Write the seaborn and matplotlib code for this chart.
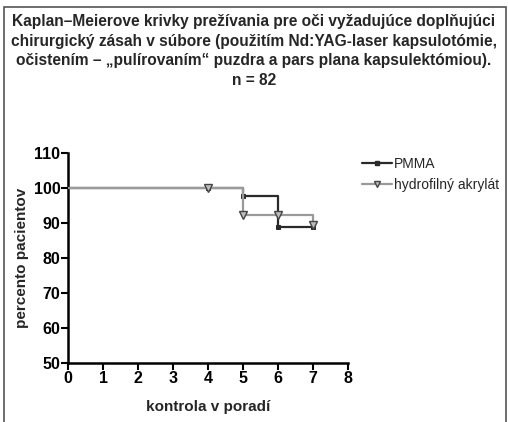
import matplotlib
matplotlib.use("Agg")
import matplotlib.pyplot as plt
import seaborn as sns
import pandas as pd
from matplotlib.patches import Rectangle
from matplotlib.lines import Line2D

sns.set_theme(style="white")
plt.rcParams['font.family'] = ['Liberation Sans', 'DejaVu Sans']

title_lines = [
    "Kaplan–Meierove krivky prežívania pre oči vyžadujúce doplňujúci",
    "chirurgický zásah v súbore (použitím Nd:YAG-laser kapsulotómie,",
    "očistením – „pulírovaním“ puzdra a pars plana kapsulektómiou).",
    "n = 82",
]
time_pmma = [0, 4, 5, 6, 7]
surv_pmma = [100, 100, 97.6, 88.8, 88.8]
time_hydro = [0, 4, 5, 6, 7]
surv_hydro = [100, 100, 92.3, 92.3, 89.3]
x_ticks = [0, 1, 2, 3, 4, 5, 6, 7, 8]
y_ticks = [50, 60, 70, 80, 90, 100, 110]

c_pmma = "#2a2a2a"
c_hydro = "#9a9a9a"

fig = plt.figure(figsize=(5.08, 4.22), dpi=100)
ax = fig.add_axes([0.1339, 0.1398, 0.685 - 0.1339, 0.6374 - 0.1398])

df_p = pd.DataFrame({"t": time_pmma, "s": surv_pmma})
df_h = pd.DataFrame({"t": time_hydro, "s": surv_hydro})

sns.lineplot(data=df_p, x="t", y="s", ax=ax, drawstyle="steps-post", color=c_pmma,
             lw=1.6, marker="s", markersize=3.5, markerfacecolor=c_pmma,
             markeredgecolor=c_pmma, markevery=[1, 2, 3, 4], legend=False, zorder=2)
sns.lineplot(data=df_h, x="t", y="s", ax=ax, drawstyle="steps-post", color=c_hydro,
             lw=1.6, marker="v", markersize=6, markerfacecolor="#bdbdbd",
             markeredgecolor="#444444", markeredgewidth=1.0, markevery=[1, 2, 3, 4],
             legend=False, zorder=3)

ax.set_xlim(0, 8)
ax.set_ylim(50, 110)
ax.set_xticks(x_ticks)
ax.set_yticks(y_ticks)
ax.set_xticklabels([str(v) for v in x_ticks], fontsize=11.5, fontweight="bold")
ax.set_yticklabels([str(v) for v in y_ticks], fontsize=11.5, fontweight="bold")
for s in ["top", "right"]:
    ax.spines[s].set_visible(False)
for s in ["left", "bottom"]:
    ax.spines[s].set_linewidth(1.8)
    ax.spines[s].set_color("black")
ax.tick_params(axis="both", direction="out", length=5, width=1.5, colors="black", pad=0.5,
               left=True, bottom=True)
ax.set_xlabel("kontrola v poradí", fontsize=11, fontweight="bold", labelpad=10)
ax.set_ylabel("percento pacientov", fontsize=11, fontweight="bold", labelpad=3)

handles = [
    Line2D([], [], color=c_pmma, lw=1.6, marker="s", markersize=3.5,
           markerfacecolor=c_pmma, markeredgecolor=c_pmma),
    Line2D([], [], color=c_hydro, lw=1.6, marker="v", markersize=5,
           markerfacecolor="#bdbdbd", markeredgecolor="#444444"),
]
fig.legend(handles, ["PMMA", "hydrofilný akrylát"], loc="upper left",
           bbox_to_anchor=(0.712, 0.628), frameon=False, fontsize=10,
           handlelength=2.2, handletextpad=0.15, labelspacing=0.5, borderaxespad=0,
           borderpad=0)

fig.text(0.5, 0.966, "\n".join(title_lines), ha="center", va="top", fontsize=11.2,
         fontweight="bold", linespacing=1.38)

fig.patches.append(Rectangle((4 / 508, -0.1), (506 - 4) / 508, 1.1 - 7 / 422,
                             transform=fig.transFigure, fill=False, edgecolor="#555555",
                             lw=1.2, zorder=-1))

fig.savefig("out.png", dpi=100)
